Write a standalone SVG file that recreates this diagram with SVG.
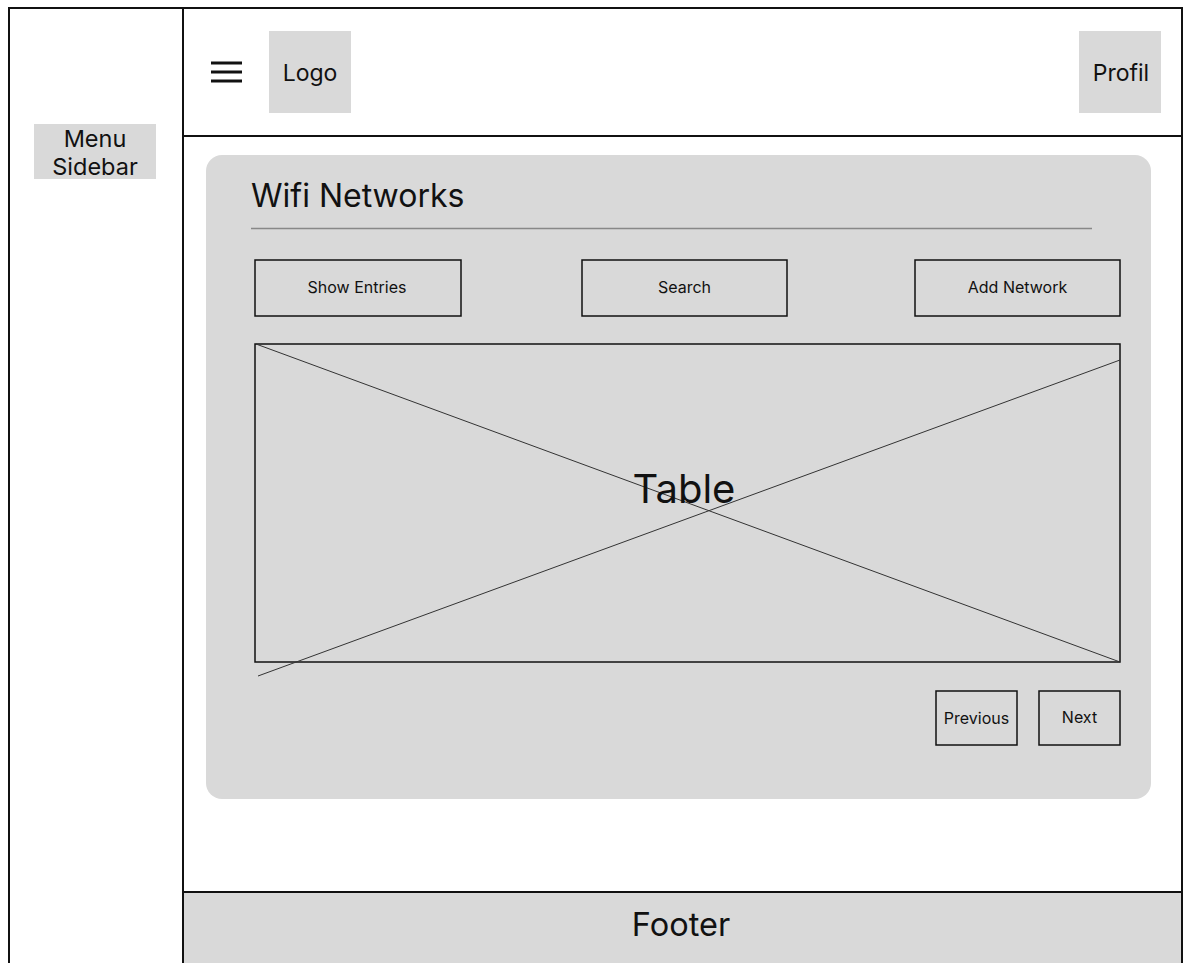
<svg xmlns="http://www.w3.org/2000/svg" width="1188" height="963" viewBox="0 0 1188 963">
  <style>
    text { font-family: Inter, "Liberation Sans", sans-serif; fill: #111; }
    .frame { fill: none; stroke: #111; stroke-width: 2; }
    .div { stroke: #111; stroke-width: 2; fill: none; }
    .block { fill: #d9d9d9; }
    .btn { fill: none; stroke: #111; stroke-width: 1.5; }
    .cross { stroke: #333; stroke-width: 1; fill: none; }
    .lbl { font-size: 16px; text-anchor: middle; }
  </style>

  <!-- page frame -->
  <g id="frame">
    <path class="frame" d="M9 963 V8 H1182 V963"/>
    <line class="div" x1="183" y1="8" x2="183" y2="963"/>
    <line class="div" x1="183" y1="136" x2="1182" y2="136"/>
  </g>

  <!-- sidebar -->
  <g id="sidebar">
    <rect class="block" x="34" y="124" width="122" height="55"/>
    <text x="95" y="147" font-size="23.5" text-anchor="middle">Menu</text>
    <text x="95" y="175" font-size="23.5" text-anchor="middle">Sidebar</text>
  </g>

  <!-- header -->
  <g id="header">
    <g id="hamburger" stroke="#111" stroke-width="3">
      <line x1="211" y1="63" x2="242" y2="63"/>
      <line x1="211" y1="72" x2="242" y2="72"/>
      <line x1="211" y1="81" x2="242" y2="81"/>
    </g>
    <g id="logo">
      <rect class="block" x="269" y="31" width="82" height="82"/>
      <text x="310" y="81" font-size="23" text-anchor="middle">Logo</text>
    </g>
    <g id="profil">
      <rect class="block" x="1079" y="31" width="82" height="82"/>
      <text x="1121" y="81" font-size="23" text-anchor="middle">Profil</text>
    </g>
  </g>

  <!-- content card -->
  <g id="content">
    <rect class="block" x="206" y="155" width="945" height="644" rx="16"/>
    <text x="251" y="207" font-size="32">Wifi Networks</text>
    <line x1="251" y1="228.5" x2="1092" y2="228.5" stroke="#888" stroke-width="1.5"/>
  </g>

  <g id="show-entries">
    <rect class="btn" x="255" y="260" width="206" height="56"/>
    <text class="lbl" x="357" y="293">Show Entries</text>
  </g>
  <g id="search">
    <rect class="btn" x="582" y="260" width="205" height="56"/>
    <text class="lbl" x="684.5" y="293">Search</text>
  </g>
  <g id="add-network">
    <rect class="btn" x="915" y="260" width="205" height="56"/>
    <text class="lbl" x="1017.5" y="293">Add Network</text>
  </g>

  <!-- table placeholder -->
  <g id="table">
    <rect class="btn" x="255" y="344" width="865" height="318"/>
    <line class="cross" x1="256" y1="344" x2="1120" y2="662"/>
    <line class="cross" x1="258" y1="676" x2="1120" y2="360"/>
    <text x="684" y="503" font-size="40" text-anchor="middle">Table</text>
  </g>

  <g id="previous">
    <rect class="btn" x="936" y="691" width="81" height="54"/>
    <text class="lbl" x="976.5" y="724" font-size="15">Previous</text>
  </g>
  <g id="next">
    <rect class="btn" x="1039" y="691" width="81" height="54"/>
    <text class="lbl" x="1079.5" y="723" font-size="15">Next</text>
  </g>

  <!-- footer -->
  <g id="footer">
    <rect class="block" x="184" y="892" width="997" height="71"/>
    <line class="div" x1="183" y1="892" x2="1182" y2="892"/>
    <text x="681" y="936" font-size="32.5" text-anchor="middle">Footer</text>
  </g>
</svg>
